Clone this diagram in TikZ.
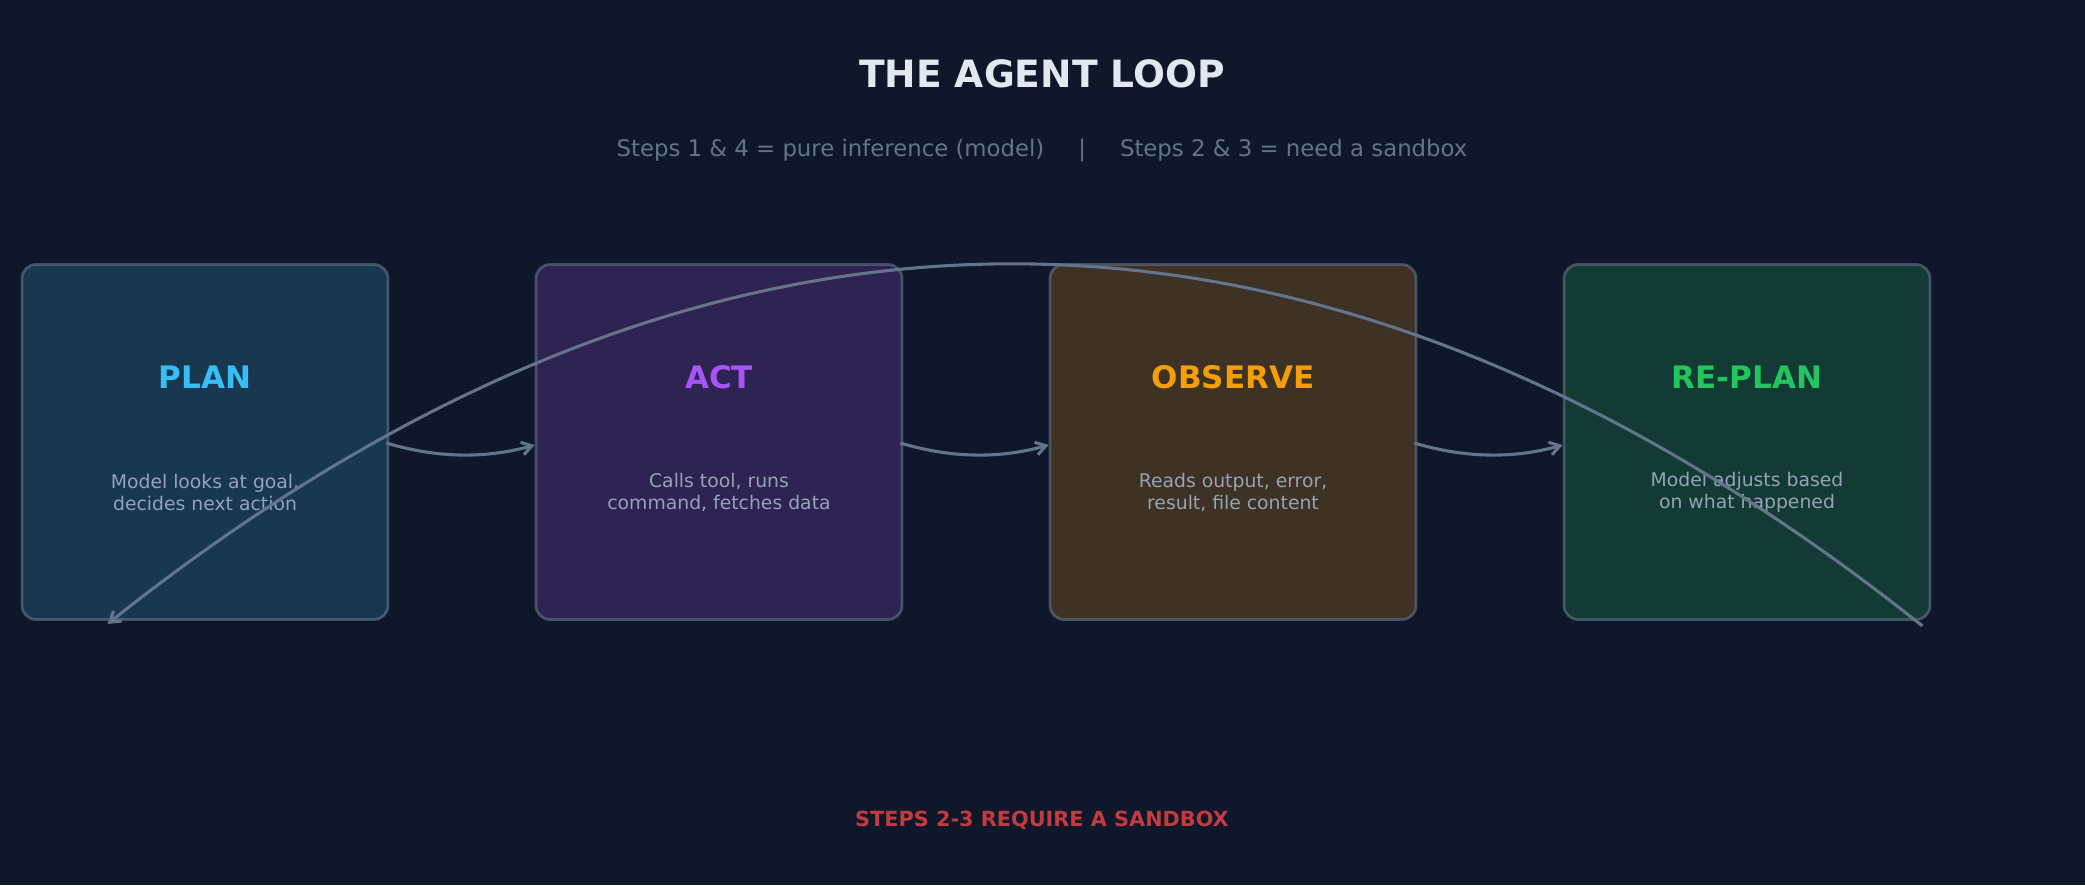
\documentclass[tikz,border=0pt]{standalone}
\usepackage{fontspec}
\setmainfont{DejaVu Sans}
\usepackage{xcolor}
\usetikzlibrary{arrows.meta,positioning,calc}
\definecolor{night}{HTML}{0F172A}
\definecolor{headtext}{HTML}{E2E8F0}
\definecolor{subtext}{HTML}{64748B}
\definecolor{desctext}{HTML}{94A3B8}
\definecolor{edgegray}{HTML}{64748B}
\definecolor{wire}{HTML}{64748B}
\definecolor{warnred}{HTML}{C23B3F}
\definecolor{planink}{HTML}{38BDF8}
\definecolor{actink}{HTML}{A855F7}
\definecolor{obsink}{HTML}{F59E0B}
\definecolor{replanink}{HTML}{22C55E}
\definecolor{planbg}{HTML}{17384F}
\definecolor{actbg}{HTML}{2E2353}
\definecolor{obsbg}{HTML}{3D3224}
\definecolor{replanbg}{HTML}{133A34}
\tikzset{
  stagebox/.style={draw=edgegray,draw opacity=0.6,line width=1.4pt,
                   rounded corners=7pt,minimum width=183pt,
                   minimum height=177.5pt,inner sep=0pt},
  stagetitle/.style={font=\bfseries\fontsize{15.5}{18}\selectfont,inner sep=0pt},
  stagedesc/.style={font=\fontsize{9.4}{11}\selectfont,text=desctext,
                    align=center,inner sep=0pt},
  flowarr/.style={-{Straight Barb[length=5pt,width=6.5pt]},line width=1.55pt,
                  draw=wire},
  looparr/.style={-{Straight Barb[length=5pt,width=6.5pt]},line width=1.55pt,
                  draw=wire}
}
\begin{document}
\begin{tikzpicture}[x=0.5pt,y=-0.5pt]
    \fill[night] (0,0) rectangle (2085,885);
    \useasboundingbox (0,0) rectangle (2085,885);
    \node[font=\bfseries\fontsize{18.8}{22}\selectfont,text=headtext] (title)
      at (1042,74) {THE AGENT LOOP};
    \node[font=\fontsize{11.4}{13}\selectfont,text=subtext] (subtitle)
      at (1042,150) {Steps 1 \& 4 = pure inference (model)\hspace{17pt}|\hspace{17pt}Steps 2 \& 3 = need a sandbox};
    % the four stages
    \node[stagebox,fill=planbg] (plan) at (205,442) {};
    \node[stagebox,fill=actbg] (act) at (719,442) {};
    \node[stagebox,fill=obsbg] (observe) at (1233,442) {};
    \node[stagebox,fill=replanbg] (replan) at (1747,442) {};
    \node[stagetitle,text=planink] (plan-title) at (205,377) {PLAN};
    \node[stagetitle,text=actink] (act-title) at (719,377) {ACT};
    \node[stagetitle,text=obsink] (observe-title) at (1233,377) {OBSERVE};
    \node[stagetitle,text=replanink] (replan-title) at (1747,377) {RE-PLAN};
    \node[stagedesc] (plan-desc) at (205,492)
      {Model looks at goal,\\decides next action};
    \node[stagedesc] (act-desc) at (719,492)
      {Calls tool, runs\\command, fetches data};
    \node[stagedesc] (observe-desc) at (1233,492)
      {Reads output, error,\\result, file content};
    \node[stagedesc] (replan-desc) at (1747,492)
      {Model adjusts based\\on what happened};
    % forward steps
    \draw[flowarr] ($(plan.east)+(-3,1)$) .. controls +(50,15) and +(-50,14) .. ($(act.west)+(0,3)$);
    \draw[flowarr] ($(act.east)+(-3,1)$) .. controls +(50,15) and +(-50,14) .. ($(observe.west)+(0,3)$);
    \draw[flowarr] ($(observe.east)+(-3,1)$) .. controls +(50,15) and +(-50,14) .. ($(replan.west)+(0,3)$);
    % back to the start
    \coordinate (loop-start) at ($(replan.south east)+(-9,5)$);
    \coordinate (loop-end) at ($(plan.south west)+(87,3)$);
    \draw[looparr] (loop-start) .. controls +(-604,-481) and +(604,-481) .. (loop-end);
    \node[font=\bfseries\fontsize{10.4}{13}\selectfont,text=warnred] (warning)
      at (1042,820) {STEPS 2-3 REQUIRE A SANDBOX};
  \end{tikzpicture}
\end{document}
